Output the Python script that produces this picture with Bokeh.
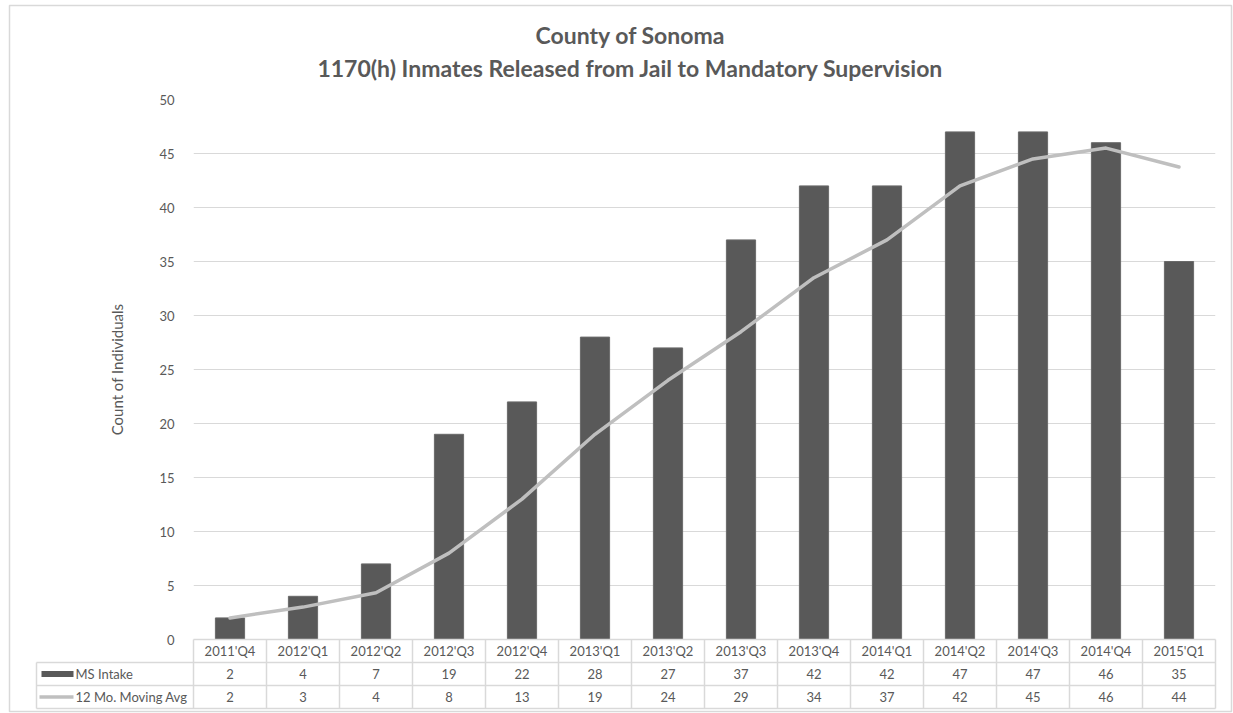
from bokeh.plotting import figure
from bokeh.models import Range1d, FixedTicker
from bokeh.core.properties import value
from bokeh.embed import file_html
from bokeh.resources import INLINE

# ---------------- data ----------------
quarters = ["2011'Q4", "2012'Q1", "2012'Q2", "2012'Q3", "2012'Q4", "2013'Q1", "2013'Q2",
            "2013'Q3", "2013'Q4", "2014'Q1", "2014'Q2", "2014'Q3", "2014'Q4", "2015'Q1"]
ms_intake = [2, 4, 7, 19, 22, 28, 27, 37, 42, 42, 47, 47, 46, 35]
moving_avg = [2, 3, 4.33, 8, 13, 19, 24, 28.5, 33.5, 37, 42, 44.5, 45.5, 43.75]
moving_avg_labels = [2, 3, 4, 8, 13, 19, 24, 29, 34, 37, 42, 45, 46, 44]
y_ticks = [0, 5, 10, 15, 20, 25, 30, 35, 40, 45, 50]
row_labels = ["MS Intake", "12 Mo. Moving Avg"]
title_lines = ["County of Sonoma", "1170(h) Inmates Released from Jail to Mandatory Supervision"]
y_label = "Count of Individuals"

# ---------------- layout (pixels) ----------------
W, H = 1233, 713
FL, FR, FT, FB = 193, 1215, 99, 639
n = len(quarters)
YMAX = 50
PX_X = (FR - FL) / n
PX_Y = (FB - FT) / YMAX


def dx(px):
    return (px - FL) / PX_X


def dy(py):
    return (FB - py) / PX_Y


TXT = "#595959"
GRID = "#D9D9D9"
BAR = "#595959"
LINE = "#BFBFBF"
FONT = "Lato"

p = figure(width=W, height=H, output_backend="svg", toolbar_location=None,
           x_range=Range1d(0, n), y_range=Range1d(0, YMAX), x_axis_location=None,
           min_border_left=FL, min_border_right=W - FR, min_border_top=FT,
           min_border_bottom=H - FB, outline_line_color=None,
           background_fill_color="white", border_fill_color="white")

# grid
p.xgrid.visible = False
p.ygrid.ticker = FixedTicker(ticks=y_ticks)
p.ygrid.grid_line_color = GRID
p.ygrid.grid_line_width = 1

# y axis
ya = p.yaxis[0]
ya.ticker = FixedTicker(ticks=y_ticks)
ya.axis_line_color = None
ya.major_tick_line_color = None
ya.minor_tick_line_color = None
ya.major_label_standoff = 13
ya.major_label_text_font = FONT
ya.major_label_text_font_size = "13px"
ya.major_label_text_color = TXT
ya.axis_label = y_label
ya.axis_label_text_font = FONT
ya.axis_label_text_font_size = "15px"
ya.axis_label_text_font_style = "normal"
ya.axis_label_text_color = TXT
ya.axis_label_standoff = 30

xs = [i + 0.5 for i in range(n)]

# bars and line
p.vbar(x=xs, top=ms_intake, bottom=0, width=0.4, fill_color=BAR, line_color="#6a6a6a", line_width=1)
p.line(xs, moving_avg, line_width=3.5, line_color=LINE, line_cap="round", line_join="round")

# ---------------- data table ----------------
y_head_top, y_head_bot = dy(639), dy(662)
y_r1_bot, y_r2_bot = dy(685), dy(708)
x_tab_left = dx(36)

# horizontal lines
hx0 = [0, x_tab_left, x_tab_left, x_tab_left]
hx1 = [n, n, n, n]
hy = [y_head_top, y_head_bot, y_r1_bot, y_r2_bot]
p.segment(x0=hx0, y0=hy, x1=hx1, y1=hy, line_color=GRID, line_width=1.5, level="overlay")
# vertical lines
vx = list(range(n + 1)) + [x_tab_left]
vy0 = [y_head_top] * (n + 1) + [y_head_bot]
vy1 = [y_r2_bot] * (n + 2)
p.segment(x0=vx, y0=vy0, x1=vx, y1=vy1, line_color=GRID, line_width=1.5, level="overlay")

yc_head = (y_head_top + y_head_bot) / 2
yc_r1 = (y_head_bot + y_r1_bot) / 2
yc_r2 = (y_r1_bot + y_r2_bot) / 2

common = dict(text_font=value(FONT), text_font_size="13px", text_color=TXT,
              text_baseline="middle", level="overlay")
p.text(x=xs, y=[yc_head] * n, text=quarters, text_align="center", **common)
p.text(x=xs, y=[yc_r1] * n, text=[str(v) for v in ms_intake], text_align="center", **common)
p.text(x=xs, y=[yc_r2] * n, text=[str(v) for v in moving_avg_labels], text_align="center", **common)

# legend keys inside the table
p.quad(left=[dx(41)], right=[dx(73)], top=[yc_r1 + 3 / PX_Y], bottom=[yc_r1 - 3 / PX_Y],
       fill_color=BAR, line_color=None, level="overlay")
p.segment(x0=[dx(39)], y0=[yc_r2], x1=[dx(73)], y1=[yc_r2], line_color=LINE, line_width=3.5,
          level="overlay")
p.text(x=[dx(75), dx(75)], y=[yc_r1, yc_r2], text=row_labels, text_align="left", **common)

# ---------------- title ----------------
p.text(x=[dx(630), dx(630)], y=[dy(34), dy(67)], text=title_lines, text_align="center",
       text_baseline="middle", text_font=value(FONT), text_font_size="23px",
       text_font_style="bold", text_color=TXT, level="overlay")

# outer chart border
p.quad(left=[dx(9)], right=[dx(1231)], top=[dy(5)], bottom=[dy(711)], fill_color=None,
       line_color=GRID, line_width=1.5, level="overlay")

open("out.html", "w").write(file_html(p, INLINE))
